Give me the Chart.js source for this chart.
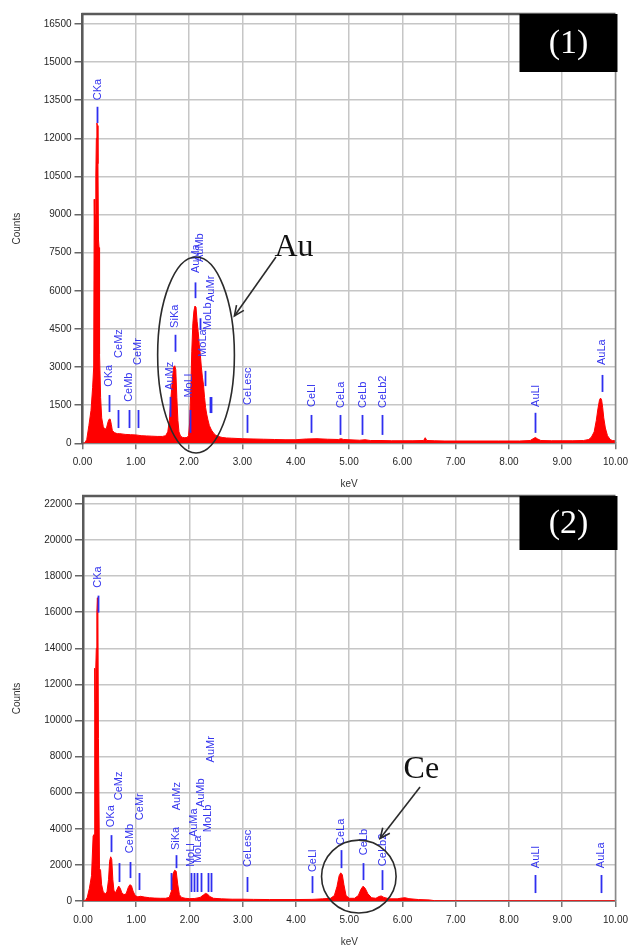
<!DOCTYPE html>
<html><head><meta charset="utf-8">
<script src="https://cdn.jsdelivr.net/npm/chart.js@4.4.1/dist/chart.umd.min.js"></script>
<style>
html,body{margin:0;padding:0;background:#fff;}
#wrap{position:relative;width:635px;height:948px;overflow:hidden;background:#fff;}
canvas{position:absolute;left:0;background:#fff;}
#c1{top:0}
#c2{top:487px}
</style></head><body>
<div id="wrap"><canvas id="c1" width="635" height="490"></canvas><canvas id="c2" width="635" height="461"></canvas></div>
<script>
// ---------- Spectrum (1) ----------
const energy1 = [0.00,0.04,0.08,0.12,0.16,0.19,0.21,0.22,0.23,0.24,0.25,0.26,0.27,0.28,0.29,0.30,0.31,0.32,0.34,0.36,0.39,0.42,0.45,0.48,0.50,0.52,0.54,0.56,0.60,0.65,0.70,0.80,0.90,1.00,1.10,1.20,1.30,1.40,1.50,1.56,1.60,1.63,1.66,1.69,1.71,1.73,1.75,1.77,1.79,1.81,1.84,1.88,1.92,1.96,1.99,2.01,2.03,2.05,2.07,2.09,2.11,2.13,2.15,2.17,2.19,2.21,2.23,2.25,2.27,2.29,2.31,2.33,2.35,2.38,2.42,2.46,2.50,2.55,2.62,2.70,2.80,3.00,3.20,3.40,3.60,3.80,4.00,4.20,4.40,4.60,4.80,4.85,4.90,5.00,5.20,5.30,5.40,5.60,5.80,6.00,6.20,6.40,6.43,6.46,6.60,6.80,7.00,7.40,7.80,8.20,8.40,8.47,8.50,8.53,8.60,8.80,9.00,9.20,9.40,9.50,9.55,9.60,9.64,9.67,9.70,9.72,9.74,9.76,9.78,9.81,9.85,9.90,9.94,10.00];
const counts1 = [0,0,150,700,1300,2200,3000,9600,8000,9000,10500,12000,12600,12500,11000,8000,7700,3500,1800,1000,650,550,600,850,950,950,750,500,420,380,380,350,340,330,300,290,280,270,270,300,450,900,1800,2600,3000,3050,2900,1800,900,450,280,230,220,230,300,800,2000,3600,4700,5200,5400,5350,4800,4400,3900,3500,3000,2600,2300,1800,1400,1150,950,700,520,400,320,270,230,210,200,180,170,160,150,140,140,170,180,160,150,180,150,140,120,140,110,110,100,100,100,110,220,110,100,90,90,90,90,90,110,200,230,180,110,100,100,100,110,150,250,450,900,1350,1700,1780,1700,1400,1000,600,300,150,110,100];
const yTicks1 = [0,1500,3000,4500,6000,7500,9000,10500,12000,13500,15000,16500];
const yMax1 = 16890;

const lineNames1   = ["CKa","OKa","CeMz","CeMb","CeMr","AuMz","SiKa","MoLl","AuMa","AuMb","MoLa","MoLb","AuMr","CeLesc","CeLl","CeLa","CeLb","CeLb2","AuLl","AuLa"];
const markerKeV1   = [0.28,0.50,0.66,0.87,1.05,1.65,1.73,2.02,2.12,2.20,2.29,2.40,2.42,3.09,4.29,4.84,5.25,5.62,8.49,9.74];
const textKeV1     = [0.28,0.48,0.67,0.86,1.04,1.64,1.72,1.99,2.12,2.19,2.25,2.35,2.40,3.09,4.29,4.84,5.25,5.62,8.49,9.74];
const markerLow1   = [12600,1230,600,600,600,1040,3600,410,5710,4460,2250,1190,1190,410,410,330,330,330,410,2020];
const markerHigh1  = [13240,1900,1310,1310,1310,1825,4270,1310,6330,4920,2850,1820,1820,1115,1115,1115,1115,1115,1200,2690];
const textBase1    = [13500,2220,3360,1630,3080,2100,4540,1800,6700,7130,3400,4460,5560,1510,1430,1390,1390,1390,1430,3080];

// ---------- Spectrum (2) ----------
const energy2 = [0.00,0.04,0.08,0.12,0.16,0.19,0.21,0.22,0.23,0.24,0.25,0.26,0.27,0.28,0.29,0.30,0.31,0.33,0.35,0.38,0.42,0.45,0.48,0.50,0.52,0.54,0.56,0.58,0.61,0.64,0.67,0.70,0.73,0.77,0.81,0.85,0.88,0.91,0.94,0.98,1.03,1.08,1.15,1.25,1.35,1.45,1.55,1.62,1.66,1.69,1.72,1.75,1.78,1.81,1.85,1.92,2.00,2.10,2.20,2.26,2.30,2.34,2.38,2.45,2.60,2.80,3.00,3.20,3.50,4.00,4.30,4.50,4.65,4.72,4.77,4.81,4.84,4.87,4.90,4.94,5.00,5.10,5.17,5.22,5.26,5.30,5.35,5.42,5.50,5.56,5.60,5.65,5.75,5.90,6.00,6.05,6.12,6.30,6.50,6.60,7.00,8.00,9.00,10.00];
const counts2 = [0,0,200,700,1400,3600,3700,12900,11000,12900,14000,16000,16800,16000,9000,9000,1800,1700,900,500,400,500,1200,2200,2450,2300,1200,600,450,650,830,700,450,350,400,750,900,850,550,300,230,260,220,180,160,150,150,200,550,1500,1700,1650,900,350,200,150,130,140,200,330,420,380,250,150,120,100,100,90,80,80,90,120,150,300,800,1400,1560,1450,900,300,150,150,300,650,820,700,400,180,150,250,280,200,120,120,170,180,130,80,60,20,10,10,10,10];
const yTicks2 = [0,2000,4000,6000,8000,10000,12000,14000,16000,18000,20000,22000];
const yMax2 = 22440;

const lineNames2   = ["CKa","OKa","CeMz","CeMb","CeMr","AuMz","SiKa","MoLl","AuMa","MoLa","AuMb","MoLb","AuMr","CeLesc","CeLl","CeLa","CeLb","CeLb2","AuLl","AuLa"];
const markerKeV2   = [0.28,0.52,0.67,0.875,1.06,1.66,1.74,2.03,2.09,2.15,2.21,2.34,2.40,3.08,4.30,4.84,5.26,5.62,8.49,9.72];
const textKeV2     = [0.28,0.52,0.67,0.875,1.06,1.75,1.73,2.02,2.08,2.15,2.20,2.33,2.40,3.08,4.30,4.84,5.26,5.62,8.49,9.72];
const markerLow2   = [15980,2710,1050,1270,610,610,1820,500,500,500,500,500,500,500,440,1820,1160,610,440,440];
const markerHigh2  = [16920,3650,2100,2160,1550,1550,2540,1550,1550,1550,1550,1550,1550,1330,1380,2820,2100,1710,1440,1440];
const textBase2    = [17360,4090,5580,2650,4480,5030,2820,1880,3540,2100,5200,3810,7680,1880,1600,3100,2540,1930,1820,1820];

const xTickLabels = ["0.00","1.00","2.00","3.00","4.00","5.00","6.00","7.00","8.00","9.00","10.00"];

// ---------- plugins ----------
const frame = {
  id:'frame',
  afterDraw(chart){
    const {ctx, chartArea:a} = chart;
    ctx.save();
    ctx.strokeStyle='#5a5a5a'; ctx.lineWidth=2.5;
    ctx.beginPath(); ctx.moveTo(a.left-1,a.top); ctx.lineTo(a.right,a.top); ctx.stroke();
    ctx.strokeStyle='#8a8a8a'; ctx.lineWidth=1.5;
    ctx.beginPath(); ctx.moveTo(a.right,a.top); ctx.lineTo(a.right,a.bottom); ctx.stroke();
    ctx.restore();
  }
};

const peakLabels = {
  id:'peakLabels',
  afterDatasetsDraw(chart, args, o){
    if(!o.names) return;
    const {ctx, scales:{x,y}} = chart;
    ctx.save();
    ctx.strokeStyle='#2f2ff0'; ctx.fillStyle='#3535ee'; ctx.lineWidth=1.8;
    ctx.font='11px "Liberation Sans", Arial, sans-serif';
    o.names.forEach((n,i)=>{
      const mx = Math.round(x.getPixelForValue(o.markerKeV[i]))+0.5;
      ctx.beginPath();
      ctx.moveTo(mx, y.getPixelForValue(o.low[i]));
      ctx.lineTo(mx, y.getPixelForValue(o.high[i]));
      ctx.stroke();
      const tx = x.getPixelForValue(o.textKeV[i]);
      const ty = y.getPixelForValue(o.base[i]);
      ctx.save();
      ctx.translate(tx, ty); ctx.rotate(-Math.PI/2);
      ctx.textAlign='left'; ctx.textBaseline='middle';
      ctx.fillText(n,0,0.5);
      ctx.restore();
    });
    ctx.restore();
  }
};

const notes = {
  id:'notes',
  afterDraw(chart, args, o){
    const {ctx, chartArea:a, scales:{x,y}} = chart;
    ctx.save();
    // ellipse
    const e = o.ellipse;
    const cx = x.getPixelForValue(e.cx), cy = y.getPixelForValue(e.cy);
    const rx = Math.abs(x.getPixelForValue(e.cx+e.rx)-cx), ry = Math.abs(y.getPixelForValue(e.cy+e.ry)-cy);
    ctx.strokeStyle='#2b2b2b'; ctx.lineWidth=1.6;
    ctx.beginPath(); ctx.ellipse(cx,cy,rx,ry,0,0,Math.PI*2); ctx.stroke();
    // arrow
    const ar = o.arrow;
    const x0=x.getPixelForValue(ar.x0), y0=y.getPixelForValue(ar.y0), x1=x.getPixelForValue(ar.x1), y1=y.getPixelForValue(ar.y1);
    ctx.beginPath(); ctx.moveTo(x0,y0); ctx.lineTo(x1,y1); ctx.stroke();
    const ang = Math.atan2(y1-y0,x1-x0), hl=11, hw=0.42;
    ctx.beginPath();
    ctx.moveTo(x1-hl*Math.cos(ang-hw), y1-hl*Math.sin(ang-hw));
    ctx.lineTo(x1,y1);
    ctx.lineTo(x1-hl*Math.cos(ang+hw), y1-hl*Math.sin(ang+hw));
    ctx.stroke();
    // text
    ctx.fillStyle='#111';
    ctx.font='32px "Liberation Serif", "Times New Roman", serif';
    ctx.textAlign='left'; ctx.textBaseline='alphabetic';
    ctx.fillText(o.text.s, x.getPixelForValue(o.text.x), y.getPixelForValue(o.text.y));
    // panel tag
    const bw=98, bh=o.tagH;
    ctx.fillStyle='#000';
    ctx.fillRect(a.right-bw+2, a.top, bw, bh);
    ctx.fillStyle='#fff';
    ctx.font='34px "Liberation Serif", "Times New Roman", serif';
    ctx.textAlign='center'; ctx.textBaseline='middle';
    ctx.fillText(o.tag, a.right-bw/2+2, a.top+bh/2+1);
    ctx.restore();
  }
};

function makeChart(id, energy, counts, yTicks, yMax, stepLbl, padTop, xH, yW, lbl, note){
  const font = {family:'"Liberation Sans", Arial, sans-serif', size:10};
  return new Chart(document.getElementById(id), {
    type:'line',
    data:{datasets:[{
      data: energy.map((e,i)=>({x:e,y:counts[i]})),
      borderColor:'#ff0000', backgroundColor:'#ff0000', borderWidth:1,
      fill:'origin', pointRadius:0, tension:0
    }]},
    options:{
      responsive:false, animation:false, devicePixelRatio:1,
      layout:{padding:{left:0,right:17,top:padTop,bottom:0}},
      plugins:{legend:{display:false}, tooltip:{enabled:false},
        peakLabels:lbl, notes:note},
      scales:{
        x:{type:'linear', min:0, max:10,
          afterFit(s){ s.height = xH; },
          afterBuildTicks(s){ s.ticks = xTickLabels.map((t,i)=>({value:i})); },
          ticks:{font, color:'#262626', padding:7, maxRotation:0, autoSkip:false,
            callback:(v,i)=>xTickLabels[i]},
          grid:{color:'#c6c6c6', lineWidth:1.5, tickLength:6, tickColor:'#777', tickWidth:1.5},
          border:{color:'#8a8a8a', width:2},
          title:{display:true, text:'keV', font, color:'#333', padding:{top:0,bottom:0}}
        },
        y:{type:'linear', min:0, max:yMax,
          afterFit(s){ s.width = yW; },
          afterBuildTicks(s){ s.ticks = yTicks.map(v=>({value:v})); },
          ticks:{font, color:'#262626', padding:3, autoSkip:false, callback:v=>String(v)},
          grid:{color:'#c6c6c6', lineWidth:1.5, tickLength:8, tickColor:'#666', tickWidth:1.5},
          border:{color:'#5a5a5a', width:2.5},
          title:{display:true, text:'Counts', font, color:'#333', padding:{top:11,bottom:0}}
        }
      }
    },
    plugins:[frame, peakLabels, notes]
  });
}

makeChart('c1', energy1, counts1, yTicks1, yMax1, 1500, 14, 46.7, 82.5,
  {names:lineNames1, markerKeV:markerKeV1, textKeV:textKeV1, low:markerLow1, high:markerHigh1, base:textBase1},
  {ellipse:{cx:2.13, cy:3475, rx:0.72, ry:3857},
   arrow:{x0:3.63, y0:7330, x1:2.85, y1:5010},
   text:{s:'Au', x:3.60, y:7370}, tag:'(1)', tagH:58});

makeChart('c2', energy2, counts2, yTicks2, yMax2, 2000, 8, 47, 83,
  {names:lineNames2, markerKeV:markerKeV2, textKeV:textKeV2, low:markerLow2, high:markerHigh2, base:textBase2},
  {ellipse:{cx:5.18, cy:1354, rx:0.70, ry:2018},
   arrow:{x0:6.33, y0:6318, x1:5.58, y1:3466},
   text:{s:'Ce', x:6.02, y:6800}, tag:'(2)', tagH:54});
</script>
</body></html>
